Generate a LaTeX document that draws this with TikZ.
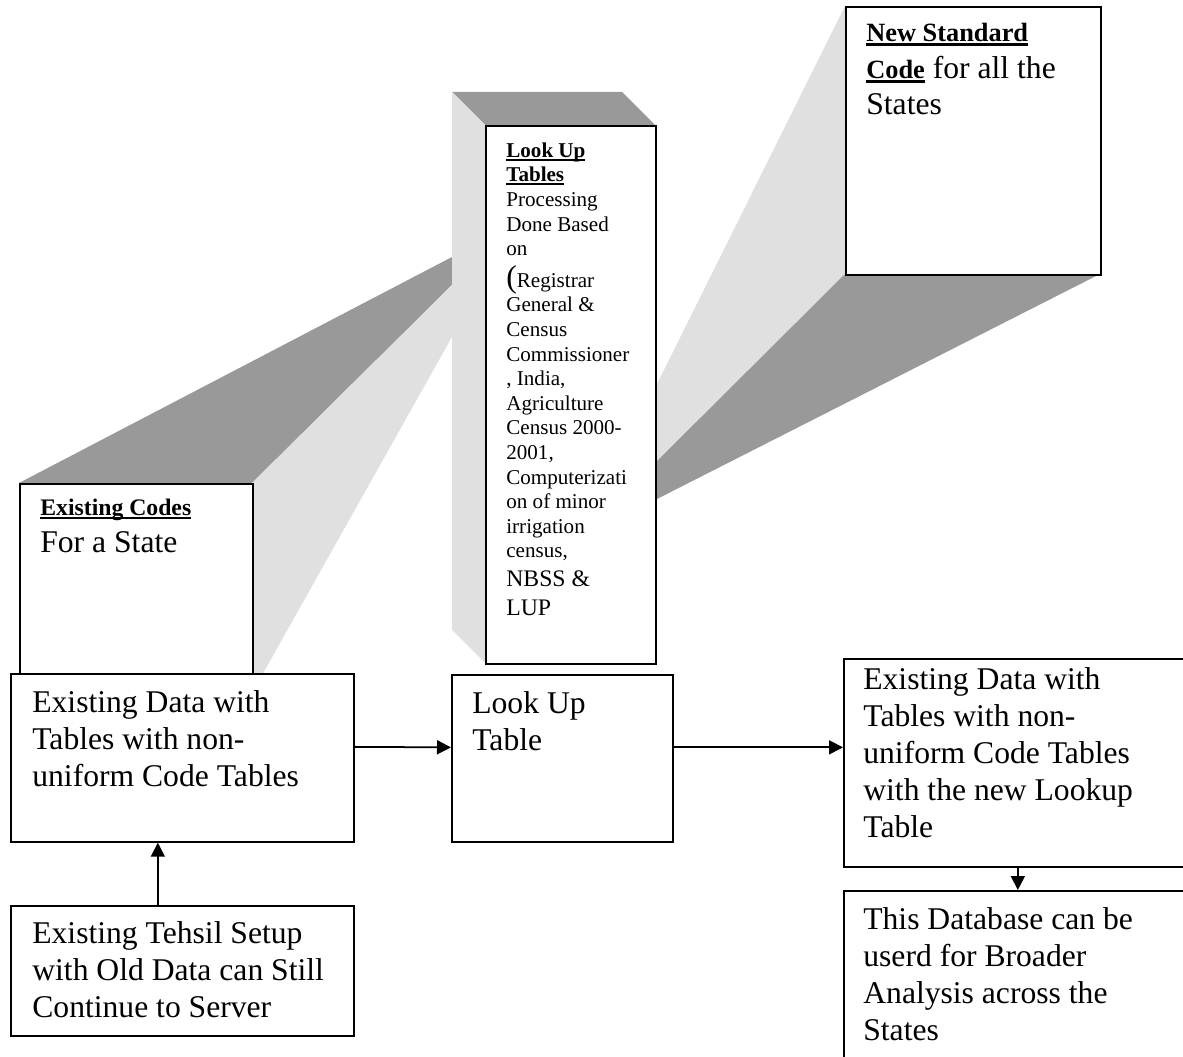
\documentclass[tikz,border=0pt]{standalone}
\usepackage{fontspec}
\setmainfont{Liberation Serif}
\usetikzlibrary{arrows.meta}

\definecolor{facedark}{gray}{0.6}
\definecolor{facelight}{gray}{0.88}

\newcommand{\fsbig}{\fontsize{18}{21}\selectfont}
\newcommand{\fssmall}{\fontsize{12}{14}\selectfont}
\newcommand{\fsmid}{\fontsize{13.5}{15.5}\selectfont}
\newcommand{\fsnew}{\fontsize{15}{20}\selectfont}
\newcommand{\ulbf}[1]{\setbox0\hbox{\textbf{#1}}\rlap{\rule[-0.17em]{\wd0}{0.1em}}\box0}

\tikzset{
    box/.style={draw, line width=1pt, fill=white, anchor=north west, inner sep=0pt},
    txt/.style={anchor=base west, align=left, inner sep=0pt, font=\fsbig},
    arr/.style={-{Triangle[length=0.28cm,width=0.28cm]}, line width=1pt}
}

\begin{document}
\begin{tikzpicture}[x=0.02cm, y=-0.02cm]
    
    \useasboundingbox (0,0) rectangle (1183,1057);
    
    \fill[facedark] (19,483) -- (452,257) -- (452,285) -- (252,483) -- cycle;
    \fill[facelight] (252,483) -- (452,285) -- (452,337) -- (252,693) -- cycle;
    
    \fill[facelight] (845,6) -- (845,274) -- (655,463) -- (655,388) -- cycle;
    \fill[facedark] (845,274) -- (1100,274) -- (655,500) -- (655,463) -- cycle;
    
    \fill[facedark] (452,92) -- (622,92) -- (655,125) -- (485,125) -- cycle;
    \fill[facelight] (452,92) -- (485,125) -- (485,663) -- (452,630) -- cycle;
    
    \node[box, minimum width=4.66cm, minimum height=4.2cm] (codes) at (19,483) {};
    \node[box, minimum width=3.4cm, minimum height=10.76cm] (lut) at (485,125) {};
    \node[box, minimum width=5.1cm, minimum height=5.36cm] (nsc) at (845,6) {};
    \node[box, minimum width=6.86cm, minimum height=3.36cm] (data) at (10,673) {};
    \node[box, minimum width=6.86cm, minimum height=2.6cm] (tehsil) at (10,905) {};
    \node[box, minimum width=4.42cm, minimum height=3.34cm] (lt) at (451,674) {};
    \node[box, minimum width=7.4cm, minimum height=4.16cm] (newdata) at (843,658) {};
    \node[box, minimum width=7.4cm, minimum height=4cm] (db) at (843,890) {};
    
    \node[txt] (codestext) at (40,552) {{\fsmid\ulbf{Existing Codes}}\\ For a State};
    \node[txt, font=\fssmall] (luttext) at (506,615) {\ulbf{Look Up}\\ \ulbf{Tables}\\ Processing\\ Done Based\\ on\\[4pt] {\fsbig(}Registrar\\ General \&\\ Census\\ Commissioner\\ , India,\\ Agriculture\\ Census 2000-\\ 2001,\\ Computerizati\\ on of minor\\ irrigation\\ census,\\[2.5pt] {\fsmid NBSS \&}\\[2pt] {\fsmid LUP}};
    \node[txt] (nsctext) at (866,115) {{\fsnew\ulbf{New Standard}}\\ {\fsnew\ulbf{Code}} for all the\\ States};
    \node[txt] (datatext) at (32,786) {Existing Data with\\ Tables with non-\\ uniform Code Tables};
    \node[txt] (tehsiltext) at (32,1017) {Existing Tehsil Setup\\ with Old Data can Still\\ Continue to Server};
    \node[txt] (lttext) at (472,750) {Look Up\\ Table};
    \node[txt] (newdatatext) at (863,837) {Existing Data with\\ Tables with non-\\ uniform Code Tables\\ with the new Lookup\\ Table};
    \node[txt] (dbtext) at (863,1040) {This Database can be\\ userd for Broader\\ Analysis across the\\ States};
    
    \draw[arr] ([xshift=-0.49cm]tehsil.north) -- ([xshift=-0.49cm]data.south);
    \draw[arr] ([yshift=0.22cm]data.east) -- ([yshift=0.22cm]lt.west);
    \draw[arr] ([yshift=0.22cm]lt.east) -- ([yshift=0.22cm]lt.east -| newdata.west);
    \draw[arr] ([xshift=-0.22cm]newdata.south) -- ([xshift=-0.22cm]db.north);
    
\end{tikzpicture}
\end{document}
